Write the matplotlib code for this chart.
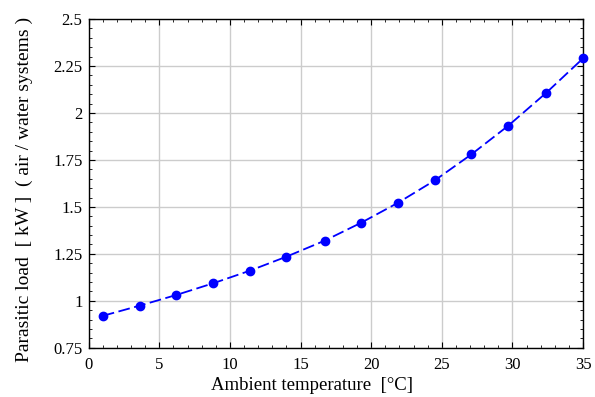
import matplotlib
matplotlib.use('Agg')
import matplotlib.pyplot as plt
from matplotlib.ticker import MultipleLocator

# ambient temperature [°C] and parasitic load [kW] for air/water systems
temp = [1.0, 3.6, 6.2, 8.8, 11.4, 14.0, 16.7, 19.3, 21.9, 24.5, 27.1, 29.7, 32.4, 35.0]
load = [0.920, 0.974, 1.031, 1.093, 1.160, 1.235, 1.320, 1.416, 1.522, 1.641,
        1.780, 1.932, 2.108, 2.291]

x_ticks = [0, 5, 10, 15, 20, 25, 30, 35]
y_ticks = [0.75, 1.0, 1.25, 1.5, 1.75, 2.0, 2.25, 2.5]
y_labels = ['0.75', '1', '1.25', '1.5', '1.75', '2', '2.25', '2.5']

plt.rcParams['font.family'] = ['Liberation Serif', 'DejaVu Serif']

fig = plt.figure(figsize=(5.95, 3.97), dpi=100)
ax = fig.add_axes([0.149, 0.124, 0.831, 0.828])

ax.plot(temp, load, color='#0000ff', lw=1.3, dashes=(6.5, 2.5),
        marker='o', ms=6, mec='#0000ff', mfc='#0000ff', clip_on=False, zorder=3)

ax.set_xlim(0, 35)
ax.set_ylim(0.75, 2.5)
ax.set_xticks(x_ticks)
ax.set_yticks(y_ticks)
ax.set_yticklabels(y_labels)
ax.xaxis.set_minor_locator(MultipleLocator(1))
ax.yaxis.set_minor_locator(MultipleLocator(0.05))

ax.grid(True, which='major', color='#cccccc', lw=1.0)
ax.set_axisbelow(True)
ax.tick_params(which='both', direction='in', top=True, right=True,
               labelsize=12, color='black')
ax.tick_params(which='major', length=4, width=0.8)
ax.tick_params(which='minor', length=2.5, width=0.6)
ax.tick_params(axis='x', which='major', pad=7)
ax.tick_params(axis='y', which='major', pad=4.5)
for s in ax.spines.values():
    s.set_linewidth(1.0)

ax.set_xlabel('Ambient temperature  [\u00b0C]', fontsize=13.5)
ax.set_ylabel('Parasitic load  [ kW ]  ( air / water systems )', fontsize=14)
ax.xaxis.set_label_coords(0.451, -0.09)
ax.yaxis.set_label_coords(-0.113, 0.483)

fig.savefig('out.png', dpi=100)
